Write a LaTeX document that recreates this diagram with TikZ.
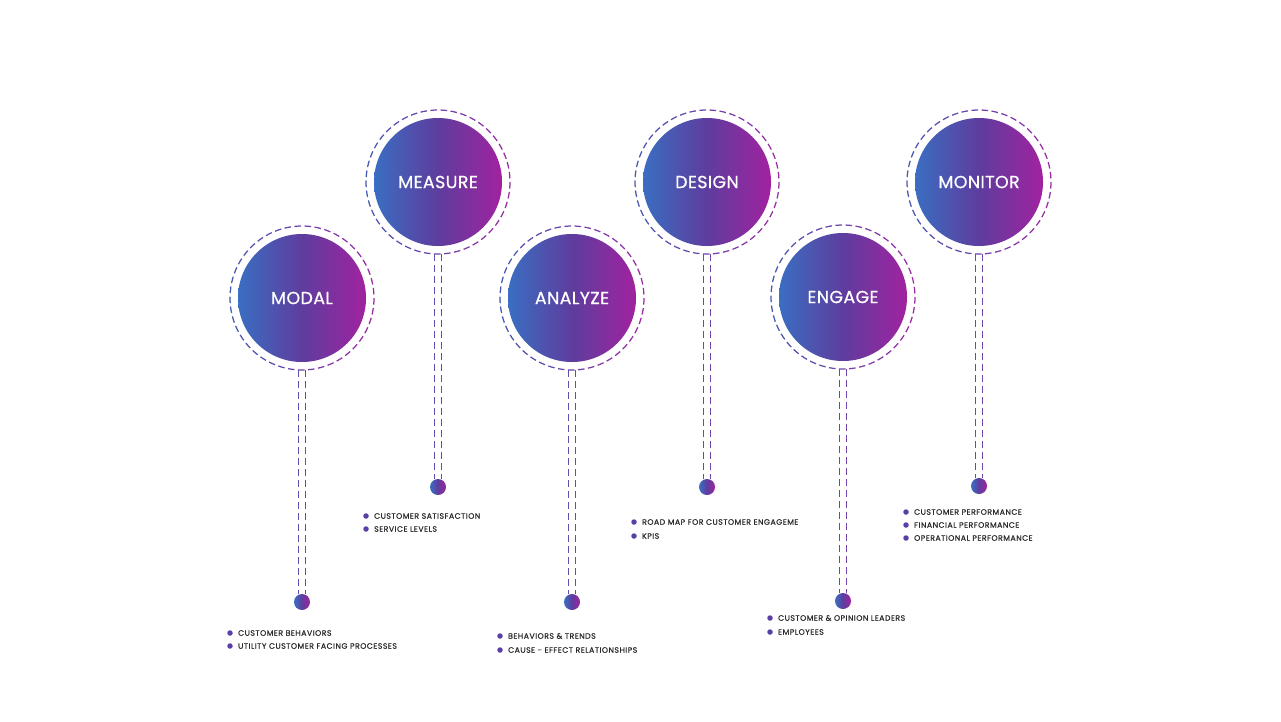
\documentclass[tikz,border=0pt]{standalone}
\usepackage{fontspec}
\setmainfont{Poppins}
\newfontfamily\titlefont[FakeBold=0.6,LetterSpace=2]{Poppins}
\newfontfamily\itemfont[FakeBold=0.45,LetterSpace=6]{Poppins}
\definecolor{gA}{HTML}{3A6EC2}
\definecolor{gM}{HTML}{5E3D9E}
\definecolor{gB}{HTML}{A1229F}
\definecolor{ringA}{HTML}{4659B4}
\definecolor{ringB}{HTML}{9B2CA3}
\definecolor{stemA}{HTML}{5E50B0}
\definecolor{stemB}{HTML}{7046AC}
\definecolor{bul}{HTML}{5A3FA6}
\definecolor{txt}{HTML}{2A2A2A}
\tikzset{
  stage/.style={circle, minimum size=128pt, inner sep=0pt, left color=gA, right color=gB, middle color=gM, text=white, font=\titlefont\fontsize{17.5}{17.5}\selectfont},
  enddot/.style={circle, minimum size=16pt, inner sep=0pt, left color=gA, right color=gB, middle color=gM},
  stem/.style={dash pattern=on 7pt off 4pt, line width=1.4pt},
  bulletdot/.style={circle, fill=bul, minimum size=5.5pt, inner sep=0pt},
  item/.style={font=\itemfont\fontsize{7.8}{7.8}\selectfont, text=txt, anchor=west, inner sep=0pt},
}
\newcommand\mystage[5]{%
  \node[stage] (#1) at (#3,#4) {#2};
  \foreach \i in {0,...,44}{%
    \pgfmathsetmacro\aa{\i*8}%
    \pgfmathsetmacro\pp{50*(1+cos(\aa+2.6))}%
    \draw[line width=1.25pt, color=ringB!\pp!ringA] (#1.center) ++(\aa:72) arc[start angle=\aa, end angle=\aa+5.2, radius=72];
  }
  \node[enddot] (#1d) at (#3,#5) {};
  \draw[stem, stemA] ([xshift=-3.5pt,yshift=-72pt]#1.center) -- ([xshift=-3.5pt]#1d.north);
  \draw[stem, stemB] ([xshift=3.5pt,yshift=-72pt]#1.center) -- ([xshift=3.5pt]#1d.north);
}
\newcommand\myitem[4]{%
  \node[bulletdot] (#1) at (#2,#3) {};
  \node[item] (#1t) at ([xshift=5pt]#1.east) {#4};
}
\begin{document}
\begin{tikzpicture}[x=1pt,y=-1pt]
\useasboundingbox[fill=white] (0,0) rectangle (1281,721);
\mystage{modal}{MODAL}{302}{298}{602}
\mystage{measure}{MEASURE}{438}{182}{487}
\mystage{analyze}{ANALYZE}{572}{298}{602}
\mystage{design}{DESIGN}{707}{182}{487}
\mystage{engage}{ENGAGE}{843}{297}{601}
\mystage{monitor}{MONITOR}{979}{182}{486}
\myitem{m1}{230}{633}{CUSTOMER BEHAVIORS}
\myitem{m2}{230}{646}{UTILITY CUSTOMER FACING PROCESSES}
\myitem{s1}{366}{516}{CUSTOMER SATISFACTION}
\myitem{s2}{366}{529}{SERVICE LEVELS}
\myitem{a1}{500}{636}{BEHAVIORS \& TRENDS}
\myitem{a2}{500}{650}{CAUSE - EFFECT RELATIONSHIPS}
\myitem{d1}{634}{522}{ROAD MAP FOR CUSTOMER ENGAGEME}
\myitem{d2}{634}{536}{KPIS}
\myitem{e1}{770}{618}{CUSTOMER \& OPINION LEADERS}
\myitem{e2}{770}{632}{EMPLOYEES}
\myitem{o1}{906}{512}{CUSTOMER PERFORMANCE}
\myitem{o2}{906}{525}{FINANCIAL PERFORMANCE}
\myitem{o3}{906}{538}{OPERATIONAL PERFORMANCE}
\end{tikzpicture}
\end{document}
